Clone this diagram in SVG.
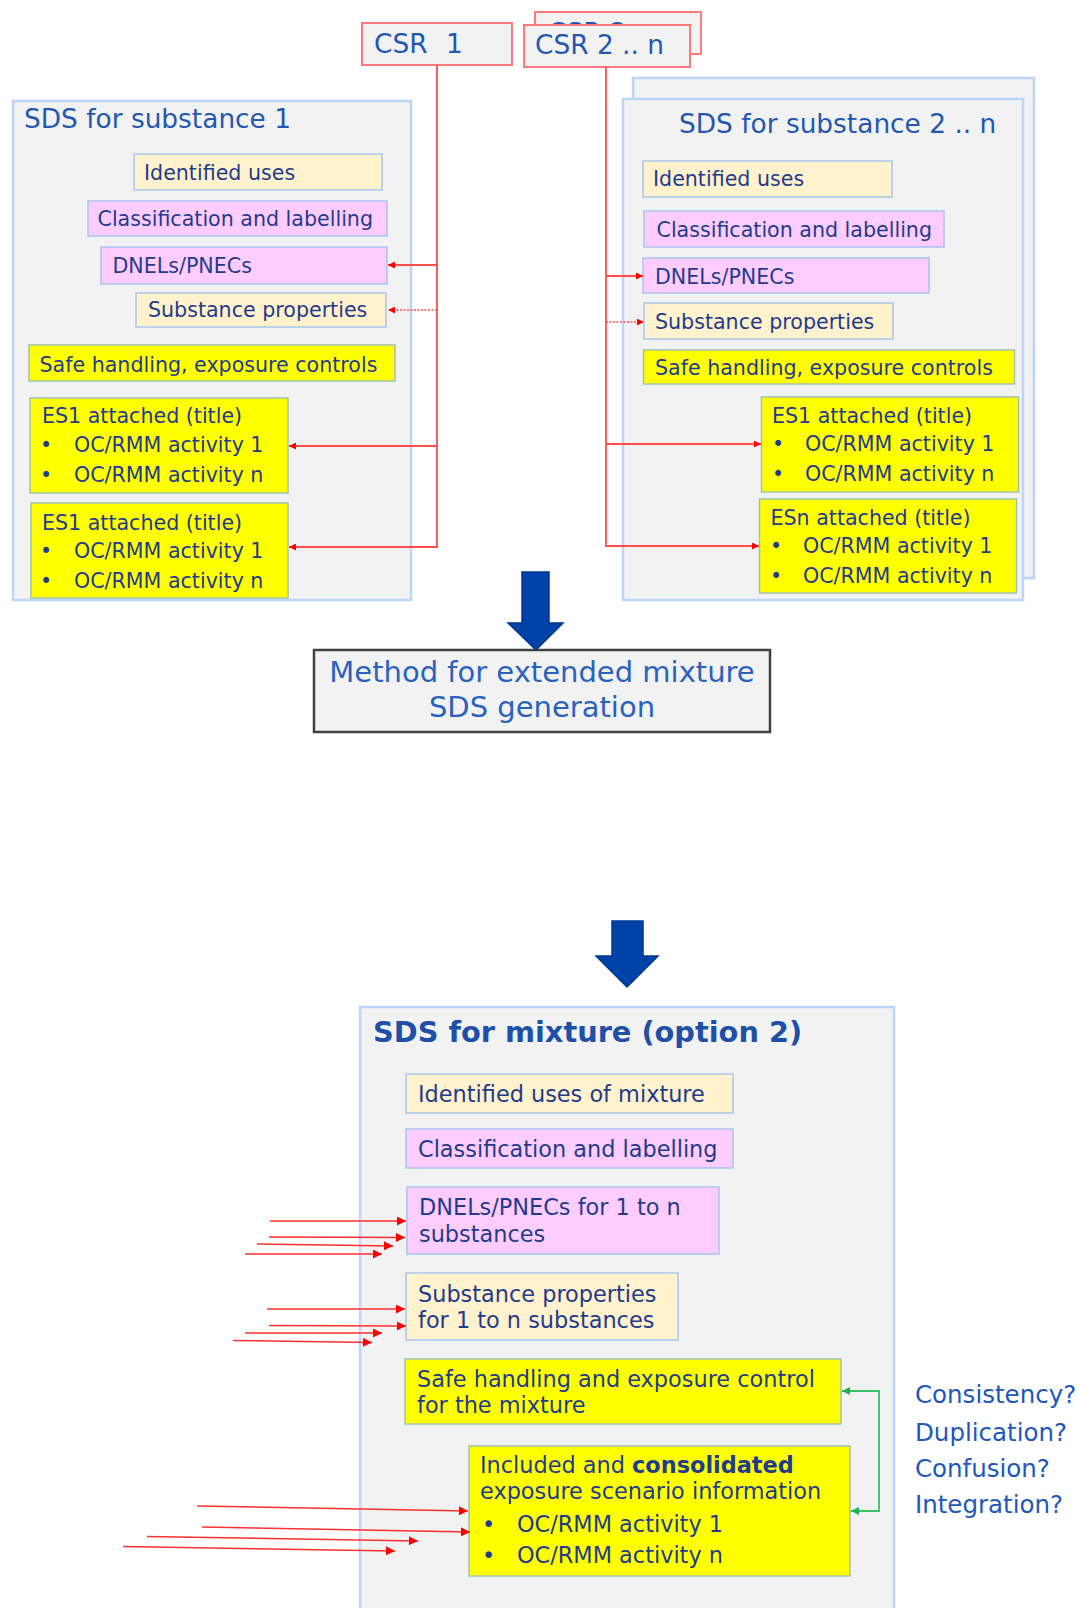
<svg xmlns="http://www.w3.org/2000/svg" width="1081" height="1608" viewBox="0 0 1081 1608">
<defs>
<style>
text{font-family:"DejaVu Sans",Verdana,sans-serif;}
.sds{fill:#f2f2f2;stroke:#bcd6fa;stroke-width:2.5;}
.csr{fill:#f2f2f2;stroke:#ff7a7a;stroke-width:2;}
.ly{fill:#fff2cc;stroke:#a9c7ee;stroke-width:1.5;}
.pk{fill:#ffccff;stroke:#a9c3f2;stroke-width:1.5;}
.yl{fill:#ffff00;stroke:#a3c3a8;stroke-width:1.5;}
.ttl{fill:#2458b0;font-size:26.4px;}
.sm{fill:#1f3c8c;font-size:20.6px;}
.smb{fill:#1f3c8c;font-size:22.4px;}
.q{fill:#2257bd;font-size:24.5px;}
.rl{stroke:#ff4d4d;stroke-width:1.8;fill:none;}
.rd{stroke:#ff4d4d;stroke-width:1.6;fill:none;stroke-dasharray:2 1.5;}
.ra{stroke:#ff3030;stroke-width:1.5;fill:none;}
.gl{stroke:#3cbf6a;stroke-width:1.8;fill:none;}
.blue{fill:#0043a8;stroke:#003890;stroke-width:1.5;}
</style>
<clipPath id="backclip"><rect x="535" y="12" width="166" height="12"/></clipPath>
<marker id="ah" viewBox="0 0 10 10" refX="10" refY="5" markerWidth="8" markerHeight="7" markerUnits="userSpaceOnUse" orient="auto"><path d="M0,0L10,5L0,10z" fill="#ff0000"/></marker>
<marker id="ahL" viewBox="0 0 10 10" refX="10" refY="5" markerWidth="12" markerHeight="9" markerUnits="userSpaceOnUse" orient="auto"><path d="M0,0L10,5L0,10z" fill="#ff0000"/></marker>
<marker id="ahG" viewBox="0 0 10 10" refX="10" refY="5" markerWidth="9" markerHeight="8" markerUnits="userSpaceOnUse" orient="auto"><path d="M0,0L10,5L0,10z" fill="#22b055"/></marker>
</defs>
<rect width="1081" height="1608" fill="#ffffff"/>

<!-- SDS substance 1 -->
<g id="sds1">
<rect class="sds" x="13" y="101" width="398" height="499"/>
<text class="ttl" x="24" y="128">SDS for substance 1</text>
</g>
<g id="sds1-uses"><rect class="ly" x="134" y="154" width="248" height="36"/><text class="sm" x="144" y="180">Identified uses</text></g>
<g id="sds1-cl"><rect class="pk" x="88" y="201" width="299" height="35"/><text class="sm" x="97.5" y="226">Classification and labelling</text></g>
<g id="sds1-dnel"><rect class="pk" x="101" y="247" width="286" height="37"/><text class="sm" x="112.5" y="273">DNELs/PNECs</text></g>
<g id="sds1-prop"><rect class="ly" x="136" y="293" width="250" height="34"/><text class="sm" x="148" y="317">Substance properties</text></g>
<g id="sds1-safe"><rect class="yl" x="29" y="345" width="366" height="36"/><text class="sm" x="39.5" y="372">Safe handling, exposure controls</text></g>
<g id="sds1-es1"><rect class="yl" x="30" y="398" width="258" height="95"/>
<text class="sm" x="42" y="423">ES1 attached (title)</text>
<text class="sm" x="40" y="452">•</text><text class="sm" x="74" y="452">OC/RMM activity 1</text>
<text class="sm" x="40" y="482">•</text><text class="sm" x="74" y="482">OC/RMM activity n</text></g>
<g id="sds1-es2"><rect class="yl" x="31" y="503" width="257" height="95"/>
<text class="sm" x="42" y="530">ES1 attached (title)</text>
<text class="sm" x="40" y="558">•</text><text class="sm" x="74" y="558">OC/RMM activity 1</text>
<text class="sm" x="40" y="588">•</text><text class="sm" x="74" y="588">OC/RMM activity n</text></g>

<!-- SDS substance 2..n -->
<g id="sds2">
<rect class="sds" x="633" y="78" width="401" height="500"/>
<rect class="sds" x="623" y="99" width="400" height="501"/>
<text class="ttl" x="679" y="133">SDS for substance 2 .. n</text>
</g>
<g id="sds2-uses"><rect class="ly" x="643" y="161" width="249" height="36"/><text class="sm" x="653" y="186">Identified uses</text></g>
<g id="sds2-cl"><rect class="pk" x="644" y="211" width="300" height="36"/><text class="sm" x="656.5" y="236.5">Classification and labelling</text></g>
<g id="sds2-dnel"><rect class="pk" x="643" y="258" width="286" height="35"/><text class="sm" x="655" y="284">DNELs/PNECs</text></g>
<g id="sds2-prop"><rect class="ly" x="644" y="303" width="249" height="36"/><text class="sm" x="655" y="329">Substance properties</text></g>
<g id="sds2-safe"><rect class="yl" x="643.5" y="350" width="371" height="34"/><text class="sm" x="655" y="375">Safe handling, exposure controls</text></g>
<g id="sds2-es1"><rect class="yl" x="761.5" y="397" width="257" height="95"/>
<text class="sm" x="772" y="423">ES1 attached (title)</text>
<text class="sm" x="772" y="451">•</text><text class="sm" x="805" y="451">OC/RMM activity 1</text>
<text class="sm" x="772" y="481">•</text><text class="sm" x="805" y="481">OC/RMM activity n</text></g>
<g id="sds2-esn"><rect class="yl" x="759.5" y="499" width="257" height="94"/>
<text class="sm" x="770.5" y="525">ESn attached (title)</text>
<text class="sm" x="770" y="553">•</text><text class="sm" x="803" y="553">OC/RMM activity 1</text>
<text class="sm" x="770" y="583">•</text><text class="sm" x="803" y="583">OC/RMM activity n</text></g>

<!-- CSR boxes -->
<g id="csr1"><rect class="csr" x="362" y="23" width="150" height="42"/><text class="ttl" x="374" y="53">CSR<tspan x="446">1</tspan></text></g>
<g id="csr2n">
<rect class="csr" x="535" y="12" width="166" height="42"/>
<text class="ttl" x="548" y="42" clip-path="url(#backclip)">CSR 2 .. n</text>
<rect class="csr" x="524" y="25" width="166" height="42"/>
<text class="ttl" x="535" y="54">CSR 2 .. n</text>
</g>

<!-- Method -->
<g id="method">
<rect x="314" y="650" width="456" height="82" fill="#f2f2f2" stroke="#404040" stroke-width="2.5"/>
<text x="542" y="682" text-anchor="middle" style="fill:#2a62be;font-size:29px">Method for extended mixture</text>
<text x="542" y="717" text-anchor="middle" style="fill:#2a62be;font-size:29px">SDS generation</text>
</g>

<!-- SDS mixture -->
<g id="mix">
<rect class="sds" x="360" y="1007" width="534" height="640"/>
<text x="373" y="1042" style="fill:#1f50a8;font-size:28.8px;font-weight:bold">SDS for mixture (option 2)</text>
</g>
<g id="mix-uses"><rect class="ly" x="406" y="1074" width="327" height="39"/><text class="smb" x="418" y="1102">Identified uses of mixture</text></g>
<g id="mix-cl"><rect class="pk" x="406" y="1129" width="327" height="39"/><text class="smb" x="418" y="1157">Classification and labelling</text></g>
<g id="mix-dnel"><rect class="pk" x="407" y="1187" width="312" height="67"/><text class="smb" x="419" y="1215">DNELs/PNECs for 1 to n</text><text class="smb" x="419" y="1242">substances</text></g>
<g id="mix-prop"><rect class="ly" x="406" y="1273" width="272" height="67"/><text class="smb" x="418" y="1302">Substance properties</text><text class="smb" x="418" y="1328">for 1 to n substances</text></g>
<g id="mix-safe"><rect class="yl" x="405" y="1359" width="436" height="65"/><text class="smb" x="417" y="1387">Safe handling and exposure control</text><text class="smb" x="417" y="1413">for the mixture</text></g>
<g id="mix-es"><rect class="yl" x="469" y="1446" width="381" height="130"/>
<text class="smb" x="480" y="1473">Included and <tspan font-weight="bold">consolidated</tspan></text>
<text class="smb" x="480" y="1499">exposure scenario information</text>
<text class="smb" x="482" y="1532">•</text><text class="smb" x="517" y="1532">OC/RMM activity 1</text>
<text class="smb" x="482" y="1563">•</text><text class="smb" x="517" y="1563">OC/RMM activity n</text></g>

<g id="questions">
<text class="q" x="915" y="1403">Consistency?</text>
<text class="q" x="915" y="1441">Duplication?</text>
<text class="q" x="915" y="1477">Confusion?</text>
<text class="q" x="915" y="1513">Integration?</text>
</g>

<!-- Blue arrows -->
<g id="arrow1"><path class="blue" d="M522,572H549V623H563L536,650L508,623H522Z"/></g>
<g id="arrow2"><path class="blue" d="M612,921H643V956H658L627,987L596,956H612Z"/></g>

<!-- Connectors -->
<g id="connectors">
<polyline class="rl" points="437,65 437,547 289,547" marker-end="url(#ah)"/>
<line class="rl" x1="437" y1="265" x2="388" y2="265" marker-end="url(#ah)"/>
<line class="rd" x1="437" y1="310" x2="388" y2="310" marker-end="url(#ah)"/>
<line class="rl" x1="437" y1="446" x2="289" y2="446" marker-end="url(#ah)"/>

<polyline class="rl" points="606,67 606,546 759,546" marker-end="url(#ah)"/>
<line class="rl" x1="606" y1="276" x2="643" y2="276" marker-end="url(#ah)"/>
<line class="rd" x1="606" y1="322" x2="644" y2="322" marker-end="url(#ah)"/>
<line class="rl" x1="606" y1="444" x2="761" y2="444" marker-end="url(#ah)"/>

<line class="ra" x1="270" y1="1221" x2="406" y2="1221" marker-end="url(#ahL)"/>
<line class="ra" x1="269" y1="1237" x2="405" y2="1237.5" marker-end="url(#ahL)"/>
<line class="ra" x1="257" y1="1244" x2="393" y2="1246" marker-end="url(#ahL)"/>
<line class="ra" x1="245" y1="1254" x2="382" y2="1254" marker-end="url(#ahL)"/>

<line class="ra" x1="267" y1="1309" x2="405" y2="1309" marker-end="url(#ahL)"/>
<line class="ra" x1="269" y1="1325.5" x2="406" y2="1326" marker-end="url(#ahL)"/>
<line class="ra" x1="245" y1="1333" x2="382" y2="1333" marker-end="url(#ahL)"/>
<line class="ra" x1="233" y1="1340.5" x2="372" y2="1342.5" marker-end="url(#ahL)"/>

<line class="ra" x1="197" y1="1506" x2="468" y2="1511" marker-end="url(#ahL)"/>
<line class="ra" x1="202" y1="1527" x2="470" y2="1532" marker-end="url(#ahL)"/>
<line class="ra" x1="147" y1="1536.5" x2="418" y2="1541" marker-end="url(#ahL)"/>
<line class="ra" x1="123" y1="1546.5" x2="395" y2="1551" marker-end="url(#ahL)"/>

<polyline class="gl" points="851,1511 879,1511 879,1391 842,1391" marker-end="url(#ahG)"/>
<line class="gl" x1="879" y1="1511" x2="851" y2="1511" marker-end="url(#ahG)"/>
</g>
</svg>
